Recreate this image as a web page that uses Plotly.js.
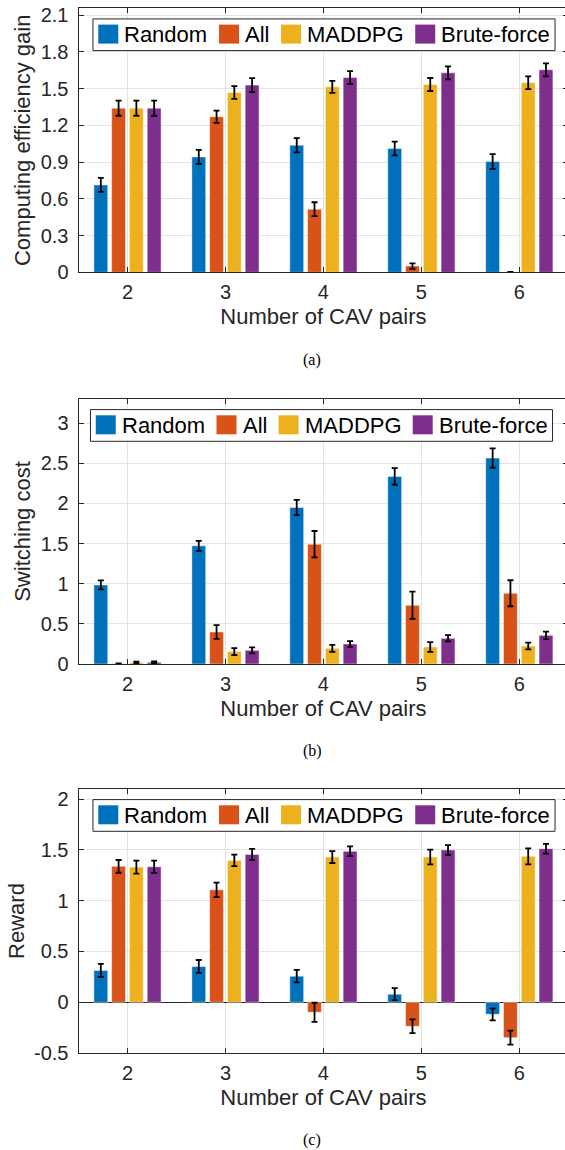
<!DOCTYPE html>
<html><head><meta charset="utf-8">
<script src="https://cdn.plot.ly/plotly-3.0.1.min.js"></script>
<style>
html,body{margin:0;padding:0;overflow:hidden;background:#fff;width:565px;height:1150px}
#chart{width:575px;height:1150px}
</style>
</head><body><div id="chart"></div>
<script>
// ---------- data ----------
const categories = [2, 3, 4, 5, 6];
const categoryLabels = ['2', '3', '4', '5', '6'];
const seriesNames = ['Random', 'All', 'MADDPG', 'Brute-force'];
const seriesColors = ['#0072BD', '#D95319', '#EDB120', '#7E2F8E'];

// (a) Computing efficiency gain
const gainRandom = [0.713, 0.942, 1.037, 1.010, 0.904];
const gainAll = [1.340, 1.269, 0.515, 0.051, 0.0];
const gainMADDPG = [1.340, 1.467, 1.514, 1.533, 1.547];
const gainBrute = [1.340, 1.528, 1.590, 1.628, 1.653];
const gainRandomErr = [0.057, 0.057, 0.058, 0.056, 0.060];
const gainAllErr = [0.062, 0.050, 0.057, 0.022, 0.004];
const gainMADDPGErr = [0.062, 0.052, 0.049, 0.053, 0.052];
const gainBruteErr = [0.062, 0.057, 0.052, 0.053, 0.053];

// (b) Switching cost
const costRandom = [0.985, 1.471, 1.949, 2.336, 2.564];
const costAll = [0.003, 0.399, 1.492, 0.731, 0.881];
const costMADDPG = [0.020, 0.154, 0.195, 0.212, 0.224];
const costBrute = [0.022, 0.170, 0.249, 0.320, 0.357];
const costRandomErr = [0.056, 0.062, 0.094, 0.104, 0.120];
const costAllErr = [0.004, 0.085, 0.164, 0.170, 0.162];
const costMADDPGErr = [0.010, 0.044, 0.044, 0.060, 0.042];
const costBruteErr = [0.010, 0.037, 0.035, 0.039, 0.046];

// (c) Reward
const rewardRandom = [0.313, 0.353, 0.257, 0.079, -0.119];
const rewardAll = [1.338, 1.107, -0.099, -0.237, -0.349];
const rewardMADDPG = [1.331, 1.397, 1.430, 1.430, 1.437];
const rewardBrute = [1.334, 1.456, 1.486, 1.499, 1.512];
const rewardRandomErr = [0.064, 0.063, 0.061, 0.059, 0.059];
const rewardAllErr = [0.063, 0.071, 0.094, 0.068, 0.069];
const rewardMADDPGErr = [0.064, 0.056, 0.059, 0.072, 0.079];
const rewardBruteErr = [0.061, 0.054, 0.048, 0.049, 0.048];

// tick labels
const gainTicks = [0, 0.3, 0.6, 0.9, 1.2, 1.5, 1.8, 2.1];
const gainTickText = ['0', '0.3', '0.6', '0.9', '1.2', '1.5', '1.8', '2.1'];
const costTicks = [0, 0.5, 1, 1.5, 2, 2.5, 3];
const costTickText = ['0', '0.5', '1', '1.5', '2', '2.5', '3'];
const rewardTicks = [-0.5, 0, 0.5, 1, 1.5, 2];
const rewardTickText = ['-0.5', '0', '0.5', '1', '1.5', '2'];

const xTitle = 'Number of CAV pairs';
const yTitles = ['Computing efficiency gain', 'Switching cost', 'Reward'];
const captions = ['(a)', '(b)', '(c)'];

// ---------- layout helpers ----------
const W = 575, H = 1150;
const px = v => v / W;
const py = v => 1 - v / H;
const FONT = '"Liberation Sans", Arial, Helvetica, sans-serif';
const SERIF = '"Liberation Serif", "Times New Roman", serif';
const INK = '#262626';
const plotLeft = 78.5, plotRight = 568.3;

const panels = [
  { top: 8.3, bottom: 272.3, range: [0, 2.155], tickvals: gainTicks, ticktext: gainTickText,
    values: [gainRandom, gainAll, gainMADDPG, gainBrute],
    errors: [gainRandomErr, gainAllErr, gainMADDPGErr, gainBruteErr],
    legendCenter: 324, captionY: 360 },
  { top: 399, bottom: 664, range: [0, 3.3], tickvals: costTicks, ticktext: costTickText,
    values: [costRandom, costAll, costMADDPG, costBrute],
    errors: [costRandomErr, costAllErr, costMADDPGErr, costBruteErr],
    legendCenter: 321.5, captionY: 750.5 },
  { top: 789, bottom: 1053, range: [-0.5, 2.1], tickvals: rewardTicks, ticktext: rewardTickText,
    values: [rewardRandom, rewardAll, rewardMADDPG, rewardBrute],
    errors: [rewardRandomErr, rewardAllErr, rewardMADDPGErr, rewardBruteErr],
    legendCenter: 324, captionY: 1140 }
];

const traces = [];
const layout = {
  width: W, height: H,
  margin: { l: 0, r: 0, t: 0, b: 0 },
  paper_bgcolor: '#fff', plot_bgcolor: '#fff',
  barmode: 'group', bargap: 0.274, bargroupgap: 0.22,
  showlegend: false,
  font: { family: FONT, color: INK },
  shapes: [], annotations: []
};

// legend metrics
const ctx = document.createElement('canvas').getContext('2d');
ctx.font = '22px "Liberation Sans"';
const textW = seriesNames.map(n => ctx.measureText(n).width);
const padL = 5.3, padR = 6, sw = 20, sh = 19, sGap = 5, itemGap = 12.6, boxH = 31.7;
const boxW = padL + padR + textW.reduce((a, b) => a + b, 0) + seriesNames.length * (sw + sGap) + (seriesNames.length - 1) * itemGap;

panels.forEach((p, k) => {
  const sfx = k === 0 ? '' : String(k + 1);
  p.values.forEach((vals, i) => {
    traces.push({
      type: 'bar', x: categories, y: vals, name: seriesNames[i],
      xaxis: 'x' + sfx, yaxis: 'y' + sfx,
      marker: { color: seriesColors[i], line: { color: 'rgba(255,255,255,0.45)', width: 1 } },
      error_y: { type: 'data', array: p.errors[i], visible: true, color: '#000', thickness: 1.8, width: 3 },
      hoverinfo: 'skip'
    });
  });
  layout['xaxis' + sfx] = {
    domain: [px(plotLeft), px(plotRight)], range: [1.5, 6.5], anchor: 'y' + sfx,
    tickvals: categories, ticktext: categoryLabels,
    ticks: 'inside', ticklen: 5, tickwidth: 1, tickcolor: INK,
    showline: true, linecolor: INK, linewidth: 1, mirror: 'ticks',
    showgrid: true, gridcolor: '#e3e3e3', gridwidth: 1, zeroline: false,
    tickfont: { family: FONT, size: 20, color: INK }, ticklabelstandoff: 2,
    title: { text: xTitle, font: { family: FONT, size: 22, color: INK }, standoff: 6 },
    fixedrange: true
  };
  layout['yaxis' + sfx] = {
    domain: [py(p.bottom), py(p.top)], range: p.range, anchor: 'x' + sfx,
    tickvals: p.tickvals, ticktext: p.ticktext,
    ticks: 'inside', ticklen: 5, tickwidth: 1, tickcolor: INK,
    showline: true, linecolor: INK, linewidth: 1, mirror: 'ticks',
    showgrid: true, gridcolor: '#e3e3e3', gridwidth: 1,
    zeroline: true, zerolinecolor: INK, zerolinewidth: 1,
    tickfont: { family: FONT, size: 20, color: INK }, ticklabelstandoff: 5,
    title: { text: yTitles[k], font: { family: FONT, size: 22, color: INK }, standoff: 3 },
    fixedrange: true
  };

  // legend (box, swatches, labels)
  const bx = p.legendCenter - boxW / 2;
  const by = p.top + 10.6;
  layout.shapes.push({ type: 'rect', xref: 'paper', yref: 'paper', layer: 'above',
    x0: px(bx), x1: px(bx + boxW), y0: py(by + boxH), y1: py(by),
    line: { color: INK, width: 1 }, fillcolor: '#fff' });
  let cx = bx + padL;
  seriesNames.forEach((n, i) => {
    layout.shapes.push({ type: 'rect', xref: 'paper', yref: 'paper', layer: 'above',
      x0: px(cx), x1: px(cx + sw), y0: py(by + 5.7 + sh), y1: py(by + 5.7),
      line: { width: 0 }, fillcolor: seriesColors[i] });
    layout.annotations.push({ xref: 'paper', yref: 'paper', x: px(cx + sw + sGap), y: py(by + boxH / 2),
      xanchor: 'left', yanchor: 'middle', showarrow: false, borderpad: 0, text: n,
      font: { family: FONT, size: 22, color: '#000' } });
    cx += sw + sGap + textW[i] + itemGap;
  });

  layout.annotations.push({ xref: 'paper', yref: 'paper', x: px(312), y: py(p.captionY),
    xanchor: 'center', yanchor: 'middle', showarrow: false, text: captions[k],
    font: { family: SERIF, size: 16, color: '#000' } });
});

Plotly.newPlot('chart', traces, layout, { staticPlot: true, displayModeBar: false });
</script>
</body></html>
